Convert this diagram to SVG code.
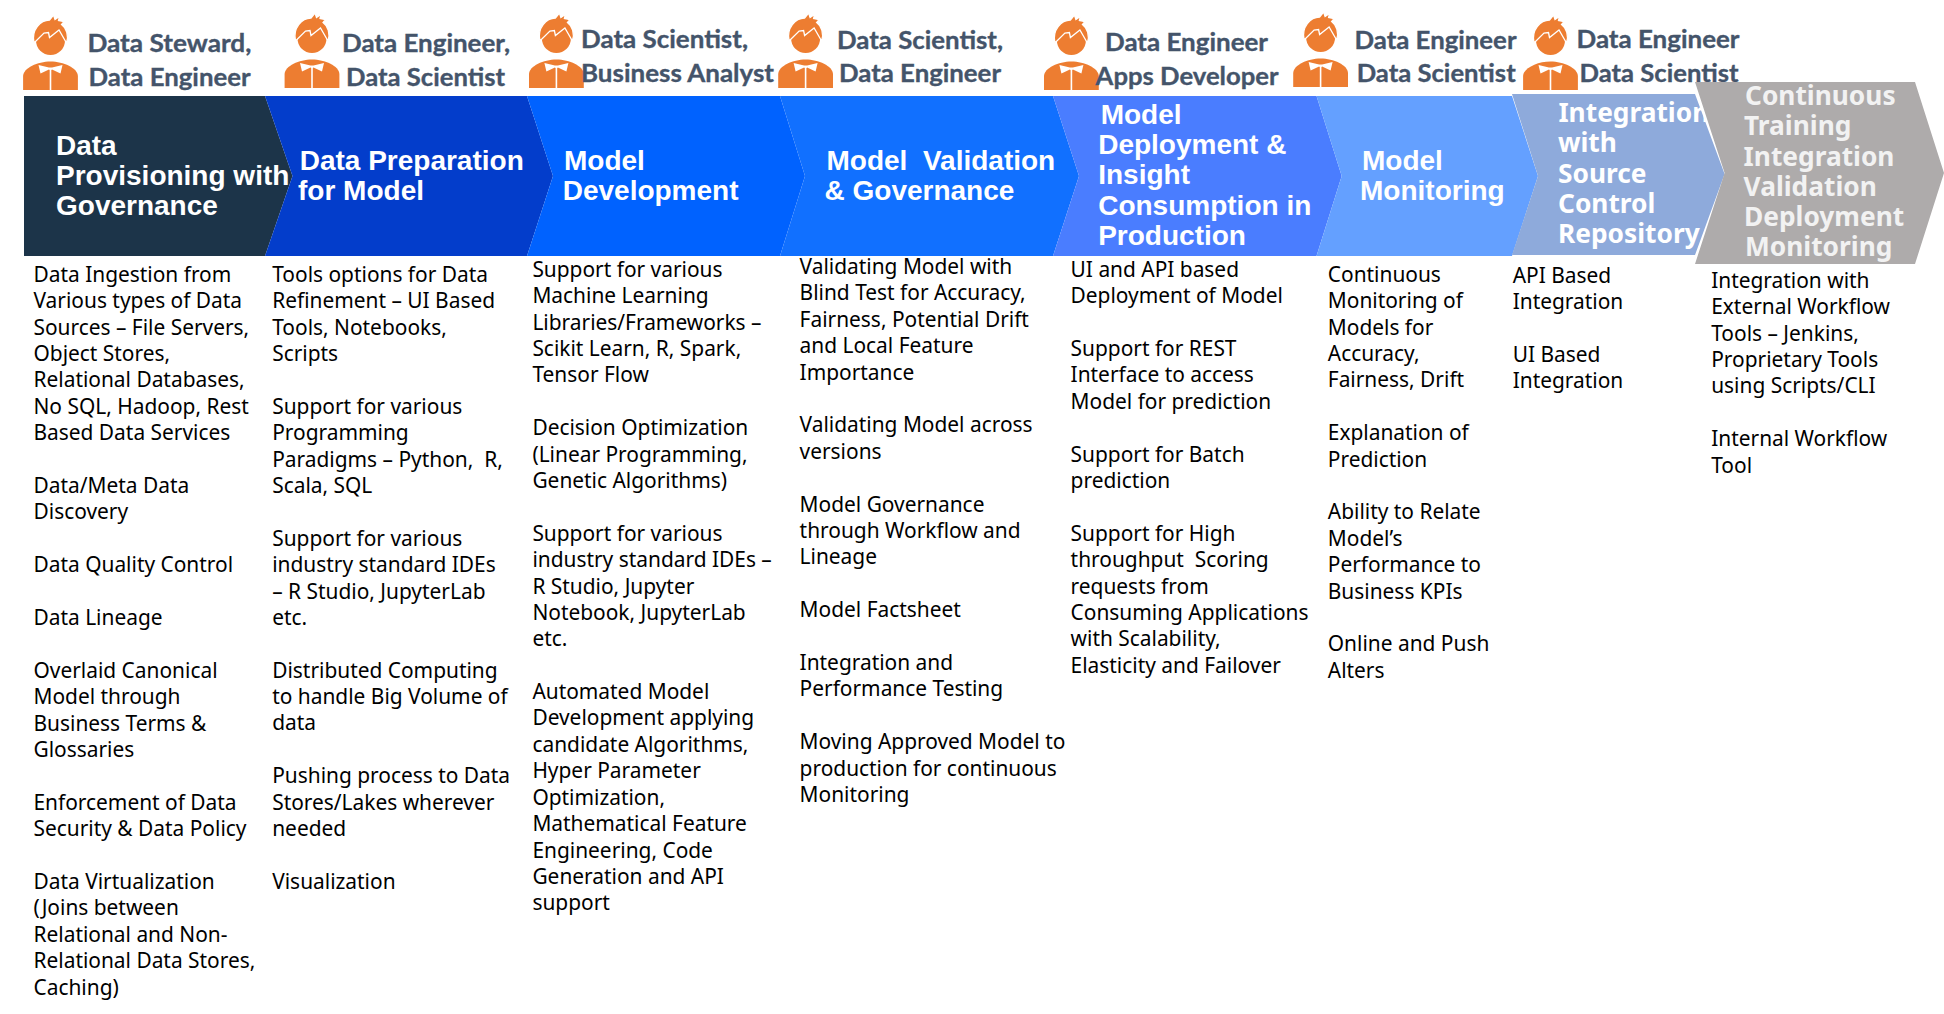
<svg xmlns="http://www.w3.org/2000/svg" width="1944" height="1014" viewBox="0 0 1944 1014">
<style>
text{white-space:pre}
.role{font-family:"Lato","Liberation Sans",sans-serif;font-weight:700;font-size:25px;fill:#44546a;stroke:#44546a;stroke-width:.35}
.head{font-family:"Liberation Sans",Arial,sans-serif;font-weight:700;font-size:28px;fill:#fff}
.head2{font-family:"Noto Sans","Liberation Sans",sans-serif;font-weight:700;font-size:26.3px;fill:#fff}
.head3{font-family:"Noto Sans","Liberation Sans",sans-serif;font-weight:700;font-size:26.3px;fill:#f2f2f2}
.body{font-family:"Noto Sans","Liberation Sans",sans-serif;font-size:20.9px;fill:#000;transform:translateX(-.8px)}
.o{fill:#ed7d31}
.w{fill:#fff}
</style>
<defs>
<g id="person">
<circle class="o" cx="0" cy="-49.5" r="14.5"/>
<path class="o" stroke="#fff" stroke-width="1.3" d="M-16.5,-47C-19.5,-60 -10,-70 -1,-70L3,-75L4.5,-70.5L9,-73.5L8,-69.5L13.5,-68.5L11,-65.5C16,-62 18.5,-54 16,-47L8.5,-60L-1,-52.5L-2,-57.5L-6.5,-57L-16.5,-47Z"/>
<path class="o" d="M-27.4,0V-14C-27,-22 -13,-28.5 0,-28.5C13,-28.5 27,-22 27.4,-14V0Z"/>
<path class="w" d="M-12,-25L-10,-16.5L-1.5,-20.5L0,-19.5L1.5,-20.5L10,-16.5L12,-25L1.5,-22.5L-1.5,-22.5Z"/>
<rect class="w" x="-0.8" y="-21" width="1.6" height="21"/>
</g>
</defs>
<rect width="1944" height="1014" fill="#fff"/>

<g id="stage-1">
<use href="#person" x="50.5" y="90"/>
<text class="role" x="87.4" y="51.7" textLength="164" lengthAdjust="spacingAndGlyphs">Data Steward,</text>
<text class="role" x="88.6" y="85.8" textLength="162" lengthAdjust="spacingAndGlyphs">Data Engineer</text>
<polygon fill="#1c3449" points="24,96 265,96 292.5,176 265,256 24,256"/>
<text class="head"><tspan x="56" y="155">Data</tspan>
<tspan x="56" y="185.3">Provisioning with</tspan>
<tspan x="56" y="215">Governance</tspan></text>
<text class="body"><tspan x="34.3" y="281.7">Data Ingestion from</tspan>
<tspan x="34.3" dy="26.4">Various types of Data</tspan>
<tspan x="34.3" dy="26.4">Sources – File Servers,</tspan>
<tspan x="34.3" dy="26.4">Object Stores,</tspan>
<tspan x="34.3" dy="26.4">Relational Databases,</tspan>
<tspan x="34.3" dy="26.4">No SQL, Hadoop, Rest</tspan>
<tspan x="34.3" dy="26.4">Based Data Services</tspan>
<tspan x="34.3" dy="52.8">Data/Meta Data</tspan>
<tspan x="34.3" dy="26.4">Discovery</tspan>
<tspan x="34.3" dy="52.8">Data Quality Control</tspan>
<tspan x="34.3" dy="52.8">Data Lineage</tspan>
<tspan x="34.3" dy="52.8">Overlaid Canonical</tspan>
<tspan x="34.3" dy="26.4">Model through</tspan>
<tspan x="34.3" dy="26.4">Business Terms &amp;</tspan>
<tspan x="34.3" dy="26.4">Glossaries</tspan>
<tspan x="34.3" dy="52.8">Enforcement of Data</tspan>
<tspan x="34.3" dy="26.4">Security &amp; Data Policy</tspan>
<tspan x="34.3" dy="52.8">Data Virtualization</tspan>
<tspan x="34.3" dy="26.4">(Joins between</tspan>
<tspan x="34.3" dy="26.4">Relational and Non-</tspan>
<tspan x="34.3" dy="26.4">Relational Data Stores,</tspan>
<tspan x="34.3" dy="26.4">Caching)</tspan></text>
</g>

<g id="stage-2">
<use href="#person" x="312" y="88"/>
<text class="role" x="342" y="51.7" textLength="168" lengthAdjust="spacingAndGlyphs">Data Engineer,</text>
<text class="role" x="346" y="85.8" textLength="159" lengthAdjust="spacingAndGlyphs">Data Scientist</text>
<polygon fill="#033dcb" points="265,96 527,96 553,176 527,256 265,256 292.5,176"/>
<text class="head"><tspan x="299.7" y="170">Data Preparation</tspan>
<tspan x="298" y="200">for Model</tspan></text>
<text class="body"><tspan x="273" y="281.7">Tools options for Data</tspan>
<tspan x="273" dy="26.4">Refinement – UI Based</tspan>
<tspan x="273" dy="26.4">Tools, Notebooks,</tspan>
<tspan x="273" dy="26.4">Scripts</tspan>
<tspan x="273" dy="52.8">Support for various</tspan>
<tspan x="273" dy="26.4">Programming</tspan>
<tspan x="273" dy="26.4">Paradigms – Python,  R,</tspan>
<tspan x="273" dy="26.4">Scala, SQL</tspan>
<tspan x="273" dy="52.8">Support for various</tspan>
<tspan x="273" dy="26.4">industry standard IDEs</tspan>
<tspan x="273" dy="26.4">– R Studio, JupyterLab</tspan>
<tspan x="273" dy="26.4">etc.</tspan>
<tspan x="273" dy="52.8">Distributed Computing</tspan>
<tspan x="273" dy="26.4">to handle Big Volume of</tspan>
<tspan x="273" dy="26.4">data</tspan>
<tspan x="273" dy="52.8">Pushing process to Data</tspan>
<tspan x="273" dy="26.4">Stores/Lakes wherever</tspan>
<tspan x="273" dy="26.4">needed</tspan>
<tspan x="273" dy="52.8">Visualization</tspan></text>
</g>

<g id="stage-3">
<use href="#person" x="556.4" y="88"/>
<text class="role" x="581" y="47.8" textLength="167" lengthAdjust="spacingAndGlyphs">Data Scientist,</text>
<text class="role" x="581" y="82.2" textLength="193" lengthAdjust="spacingAndGlyphs">Business Analyst</text>
<polygon fill="#0062ff" points="527,96 780,96 805,176 780,256 527,256 553,176"/>
<text class="head"><tspan x="564" y="170">Model</tspan>
<tspan x="562.7" y="200">Development</tspan></text>
<text class="body"><tspan x="533.2" y="276.7">Support for various</tspan>
<tspan x="533.2" dy="26.4">Machine Learning</tspan>
<tspan x="533.2" dy="26.4">Libraries/Frameworks –</tspan>
<tspan x="533.2" dy="26.4">Scikit Learn, R, Spark,</tspan>
<tspan x="533.2" dy="26.4">Tensor Flow</tspan>
<tspan x="533.2" dy="52.8">Decision Optimization</tspan>
<tspan x="533.2" dy="26.4">(Linear Programming,</tspan>
<tspan x="533.2" dy="26.4">Genetic Algorithms)</tspan>
<tspan x="533.2" dy="52.8">Support for various</tspan>
<tspan x="533.2" dy="26.4">industry standard IDEs –</tspan>
<tspan x="533.2" dy="26.4">R Studio, Jupyter</tspan>
<tspan x="533.2" dy="26.4">Notebook, JupyterLab</tspan>
<tspan x="533.2" dy="26.4">etc.</tspan>
<tspan x="533.2" dy="52.8">Automated Model</tspan>
<tspan x="533.2" dy="26.4">Development applying</tspan>
<tspan x="533.2" dy="26.4">candidate Algorithms,</tspan>
<tspan x="533.2" dy="26.4">Hyper Parameter</tspan>
<tspan x="533.2" dy="26.4">Optimization,</tspan>
<tspan x="533.2" dy="26.4">Mathematical Feature</tspan>
<tspan x="533.2" dy="26.4">Engineering, Code</tspan>
<tspan x="533.2" dy="26.4">Generation and API</tspan>
<tspan x="533.2" dy="26.4">support</tspan></text>
</g>

<g id="stage-4">
<use href="#person" x="805.6" y="88"/>
<text class="role" x="837" y="48.6" textLength="166" lengthAdjust="spacingAndGlyphs">Data Scientist,</text>
<text class="role" x="839" y="82.4" textLength="162" lengthAdjust="spacingAndGlyphs">Data Engineer</text>
<polygon fill="#1170ff" points="780,96 1053,96 1079,176 1053,256 780,256 805,176"/>
<text class="head"><tspan x="826.5" y="170">Model  Validation</tspan>
<tspan x="824.5" y="200">&amp; Governance</tspan></text>
<text class="body"><tspan x="800.4" y="274">Validating Model with</tspan>
<tspan x="800.4" dy="26.4">Blind Test for Accuracy,</tspan>
<tspan x="800.4" dy="26.4">Fairness, Potential Drift</tspan>
<tspan x="800.4" dy="26.4">and Local Feature</tspan>
<tspan x="800.4" dy="26.4">Importance</tspan>
<tspan x="800.4" dy="52.8">Validating Model across</tspan>
<tspan x="800.4" dy="26.4">versions</tspan>
<tspan x="800.4" dy="52.8">Model Governance</tspan>
<tspan x="800.4" dy="26.4">through Workflow and</tspan>
<tspan x="800.4" dy="26.4">Lineage</tspan>
<tspan x="800.4" dy="52.8">Model Factsheet</tspan>
<tspan x="800.4" dy="52.8">Integration and</tspan>
<tspan x="800.4" dy="26.4">Performance Testing</tspan>
<tspan x="800.4" dy="52.8">Moving Approved Model to</tspan>
<tspan x="800.4" dy="26.4">production for continuous</tspan>
<tspan x="800.4" dy="26.4">Monitoring</tspan></text>
</g>

<g id="stage-5">
<use href="#person" x="1071.4" y="90"/>
<polygon fill="#4a7dff" points="1053,96 1316.5,96 1341.7,176 1316.5,256 1053,256 1079,176"/>
<text class="role" x="1105" y="51" textLength="163" lengthAdjust="spacingAndGlyphs">Data Engineer</text>
<text class="role" x="1095.6" y="84.6" textLength="183" lengthAdjust="spacingAndGlyphs">Apps Developer</text>
<text class="head"><tspan x="1100.7" y="124">Model</tspan>
<tspan x="1098.2" y="153.8">Deployment &amp;</tspan>
<tspan x="1098.2" y="184">Insight</tspan>
<tspan x="1098.2" y="214.5">Consumption in</tspan>
<tspan x="1098.2" y="244.5">Production</tspan></text>
<text class="body"><tspan x="1071.4" y="276.7">UI and API based</tspan>
<tspan x="1071.4" dy="26.4">Deployment of Model</tspan>
<tspan x="1071.4" dy="52.8">Support for REST</tspan>
<tspan x="1071.4" dy="26.4">Interface to access</tspan>
<tspan x="1071.4" dy="26.4">Model for prediction</tspan>
<tspan x="1071.4" dy="52.8">Support for Batch</tspan>
<tspan x="1071.4" dy="26.4">prediction</tspan>
<tspan x="1071.4" dy="52.8">Support for High</tspan>
<tspan x="1071.4" dy="26.4">throughput  Scoring</tspan>
<tspan x="1071.4" dy="26.4">requests from</tspan>
<tspan x="1071.4" dy="26.4">Consuming Applications</tspan>
<tspan x="1071.4" dy="26.4">with Scalability,</tspan>
<tspan x="1071.4" dy="26.4">Elasticity and Failover</tspan></text>
</g>

<g id="stage-6">
<use href="#person" x="1320.6" y="87"/>
<text class="role" x="1354.5" y="48.6" textLength="162" lengthAdjust="spacingAndGlyphs">Data Engineer</text>
<text class="role" x="1356.7" y="82.2" textLength="159" lengthAdjust="spacingAndGlyphs">Data Scientist</text>
<polygon fill="#64a0ff" points="1316.5,96 1512,96 1538,176 1512,256 1316.5,256 1341.7,176"/>
<text class="head"><tspan x="1362" y="170">Model</tspan>
<tspan x="1360" y="200">Monitoring</tspan></text>
<text class="body"><tspan x="1328.6" y="281.7">Continuous</tspan>
<tspan x="1328.6" dy="26.4">Monitoring of</tspan>
<tspan x="1328.6" dy="26.4">Models for</tspan>
<tspan x="1328.6" dy="26.4">Accuracy,</tspan>
<tspan x="1328.6" dy="26.4">Fairness, Drift</tspan>
<tspan x="1328.6" dy="52.8">Explanation of</tspan>
<tspan x="1328.6" dy="26.4">Prediction</tspan>
<tspan x="1328.6" dy="52.8">Ability to Relate</tspan>
<tspan x="1328.6" dy="26.4">Model’s</tspan>
<tspan x="1328.6" dy="26.4">Performance to</tspan>
<tspan x="1328.6" dy="26.4">Business KPIs</tspan>
<tspan x="1328.6" dy="52.8">Online and Push</tspan>
<tspan x="1328.6" dy="26.4">Alters</tspan></text>
</g>

<g id="stage-7">
<use href="#person" x="1550.5" y="90"/>
<text class="role" x="1576.5" y="47.8" textLength="163" lengthAdjust="spacingAndGlyphs">Data Engineer</text>
<text class="role" x="1579.5" y="81.6" textLength="159" lengthAdjust="spacingAndGlyphs">Data Scientist</text>
<polygon fill="#8eaadb" points="1512,94 1695,94 1724.6,174 1695,255 1512,255 1538,176"/>
<text class="head2"><tspan x="1558.4" y="121.5">Integration</tspan>
<tspan x="1558" y="151.5">with</tspan>
<tspan x="1558" y="182.5">Source</tspan>
<tspan x="1558" y="212.8">Control</tspan>
<tspan x="1558" y="242.8">Repository</tspan></text>
<text class="body"><tspan x="1513.5" y="282.7">API Based</tspan>
<tspan x="1513.5" dy="26.4">Integration</tspan>
<tspan x="1513.5" dy="52.8">UI Based</tspan>
<tspan x="1513.5" dy="26.4">Integration</tspan></text>
</g>

<g id="stage-8">
<polygon fill="#aeabab" points="1695,82 1915,82 1944,173 1915,264 1695,264 1724.6,173"/>
<text class="head3"><tspan x="1745" y="104.5">Continuous</tspan>
<tspan x="1744" y="134.8">Training</tspan>
<tspan x="1743.6" y="165.5">Integration</tspan>
<tspan x="1743.6" y="195.5">Validation</tspan>
<tspan x="1744" y="225.7">Deployment</tspan>
<tspan x="1745" y="255.7">Monitoring</tspan></text>
<text class="body"><tspan x="1712" y="287.7">Integration with</tspan>
<tspan x="1712" dy="26.4">External Workflow</tspan>
<tspan x="1712" dy="26.4">Tools – Jenkins,</tspan>
<tspan x="1712" dy="26.4">Proprietary Tools</tspan>
<tspan x="1712" dy="26.4">using Scripts/CLI</tspan>
<tspan x="1712" dy="52.8">Internal Workflow</tspan>
<tspan x="1712" dy="26.4">Tool</tspan></text>
</g>
</svg>
